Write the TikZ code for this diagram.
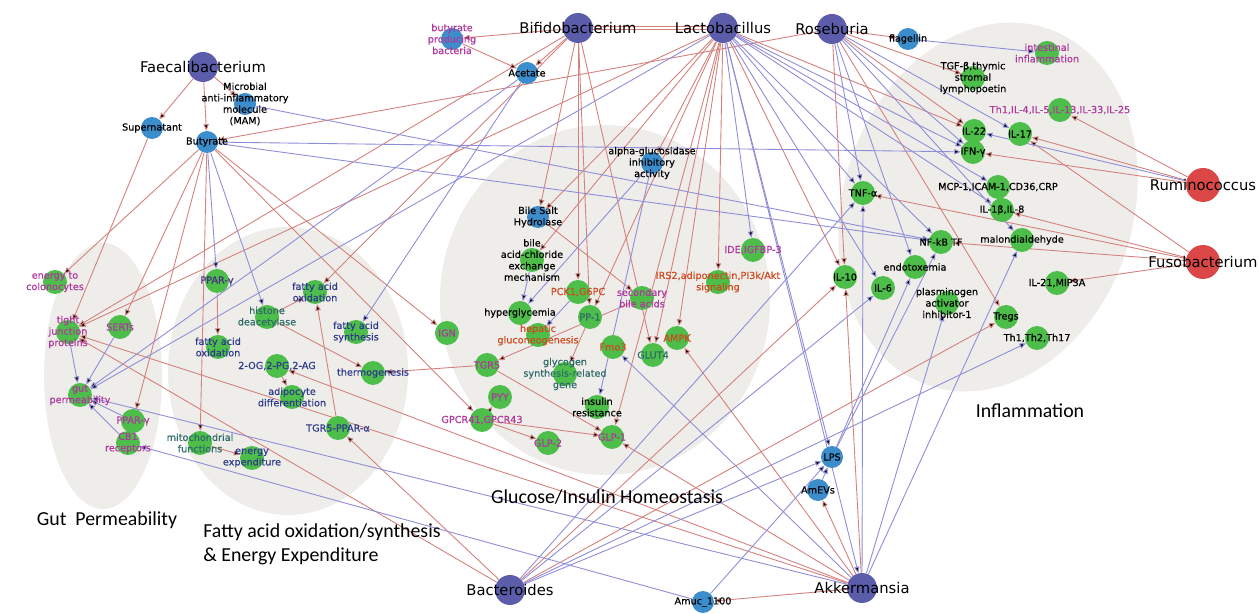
\documentclass[tikz,border=0pt]{standalone}
\usepackage{fontspec}
\usepackage{xcolor}
\usepackage{tikz}
\usetikzlibrary{arrows.meta,backgrounds}
\newfontfamily\nodefont[FakeBold=0.5]{DejaVu Sans}
\newfontfamily\bignodefont{DejaVu Sans}
\newfontfamily\areafont{Carlito}
\definecolor{bactind}{HTML}{5B5DAA}
\definecolor{pathred}{HTML}{DB4747}
\definecolor{metblue}{HTML}{3C8DCB}
\definecolor{effgreen}{HTML}{4DBE49}
\definecolor{blobgray}{HTML}{EEEDEA}
\definecolor{linkred}{HTML}{D4807C}
\definecolor{linkblue}{HTML}{8D8DD9}
\definecolor{txtmag}{HTML}{B0379F}
\definecolor{txtnavy}{HTML}{2E3A8C}
\definecolor{txtteal}{HTML}{2E6B69}
\definecolor{txtorange}{HTML}{D0481E}
\definecolor{txtviolet}{HTML}{4B2B85}
\pgfdeclarelayer{blobs}
\pgfdeclarelayer{links}
\pgfsetlayers{blobs,links,main}

\begin{document}
\begin{tikzpicture}[
  x=0.02cm, y=-0.02cm,
  bact/.style={circle, fill=bactind, minimum size=0.6cm, inner sep=0pt},
  patho/.style={circle, fill=pathred, minimum size=0.68cm, inner sep=0pt},
  metab/.style={circle, fill=metblue, minimum size=0.44cm, inner sep=0pt},
  effect/.style={circle, fill=effgreen, minimum size=0.48cm, inner sep=0pt},
  lbl/.style={font={\nodefont\fontsize{5.5}{6.5}\selectfont}, align=center, inner sep=0pt},
  biglbl/.style={font={\bignodefont\fontsize{8.4}{9}\selectfont}, inner sep=0pt},
  area/.style={font={\areafont\fontsize{11.3}{13.7}\selectfont}, inner sep=0pt},
  uplink/.style={draw=linkred, line width=0.5pt, -{Triangle[length=3.6pt,width=3pt]}},
  downlink/.style={draw=linkblue, line width=0.5pt, -{Triangle[length=3.6pt,width=3pt]}}
]
\useasboundingbox (0,0) rectangle (1259,614);

%% ---- grey areas -----------------------------------------------------------
\begin{pgfonlayer}{blobs}
\fill[white] (0,0) rectangle (1259,614);
\fill[blobgray] (103,376) ellipse [x radius=59, y radius=133];
\fill[blobgray] (288,371) ellipse [x radius=120, y radius=144];
\fill[blobgray] (605,300) ellipse [x radius=165, y radius=175];
\fill[blobgray, rotate around={-18:(988,207)}] (988,207) ellipse [x radius=145, y radius=188];
\end{pgfonlayer}

%% ---- microbes -------------------------------------------------------------
\node[bact, label={[biglbl]center:Faecalibacterium}] (faecali) at (203,67) {};
\node[bact, label={[biglbl]center:Bifidobacterium}] (bifido) at (578,28) {};
\node[bact, label={[biglbl]center:Lactobacillus}] (lacto) at (723,28) {};
\node[bact, label={[biglbl]center:Roseburia}] (rose) at (832,29) {};
\node[bact, label={[biglbl]center:Bacteroides}] (bactero) at (510,590) {};
\node[bact, label={[biglbl]center:Akkermansia}] (akker) at (862,588) {};
\node[patho, label={[biglbl]center:Ruminococcus}] (rumino) at (1203,185) {};
\node[patho, label={[biglbl]center:Fusobacterium}] (fuso) at (1203,262) {};

%% ---- products -------------------------------------------------------------
\node[metab, label={[lbl]center:Supernatant}] (superna) at (152,128) {};
\node[metab, label={[lbl]center:{Microbial\\anti-inflammatory\\molecule\\(MAM)}}] (mam) at (245,104) {};
\node[metab, label={[lbl]center:Butyrate}] (butyr) at (207,142) {};
\node[metab, label={[lbl, text=txtmag]center:{butyrate\\producing\\bacteria}}] (bprod) at (452,39) {};
\node[metab, label={[lbl]center:Acetate}] (acet) at (527,73) {};
\node[metab, label={[lbl]center:{alpha-glucosidase\\inhibitory\\activity}}] (agluc) at (652,163) {};
\node[metab, label={[lbl]center:{Bile Salt\\Hydrolase}}] (bsh) at (538,217) {};
\node[metab, label={[lbl]center:flagellin}] (flag) at (908,39) {};
\node[metab, label={[lbl]center:LPS}] (lps) at (832,457) {};
\node[metab, label={[lbl]center:AmEVs}] (amevs) at (818,490) {};
\node[metab, label={[lbl]center:Amuc\_1100}] (amuc) at (703,602) {};

%% ---- gut permeability -----------------------------------------------------
\node[effect, label={[lbl, text=txtmag]center:{energy to\\colonocytes}}] (energy) at (55,282) {};
\node[effect, label={[lbl, text=txtmag]center:{tight\\junction\\proteins}}] (tight) at (68,332) {};
\node[effect, label={[lbl, text=txtmag]center:SERTs}] (serts) at (120,327) {};
\node[effect, label={[lbl, text=txtmag]center:{gut\\permeability}}] (gutp) at (80,395) {};
\node[effect, label={[lbl, text=txtmag]center:PPAR-γ}] (pparlo) at (133,421) {};
\node[effect, label={[lbl, text=txtmag]center:{CB1\\receptors}}] (cb1) at (128,443) {};

%% ---- fatty acids ----------------------------------------------------------
\node[effect, label={[lbl, text=txtviolet]center:PPAR-γ}] (pparup) at (217,281) {};
\node[effect, label={[lbl, text=txtnavy]center:{fatty acid\\oxidation}}] (faoup) at (315,292) {};
\node[effect, label={[lbl, text=txtteal]center:{histone\\deacetylase}}] (hdac) at (267,317) {};
\node[effect, label={[lbl, text=txtnavy]center:{fatty acid\\oxidation}}] (faolo) at (218,347) {};
\node[effect, label={[lbl, text=txtnavy]center:{fatty acid\\synthesis}}] (fas) at (356,332) {};
\node[effect, label={[lbl, text=txtnavy]center:{2-OG,2-PG,2-AG}}] (twoog) at (277,366) {};
\node[effect, label={[lbl, text=txtnavy]center:thermogenesis}] (thermo) at (373,373) {};
\node[effect, label={[lbl, text=txtnavy]center:{adipocyte\\differentiation}}] (adipo) at (292,397) {};
\node[effect, label={[lbl, text=txtnavy]center:TGR5-PPAR-α}] (tgrppar) at (338,428) {};
\node[effect, label={[lbl, text=txtteal]center:{mitochondrial\\functions}}] (mito) at (200,443) {};
\node[effect, label={[lbl, text=txtnavy]center:{energy\\expenditure}}] (enexp) at (252,458) {};

%% ---- glucose / insulin ----------------------------------------------------
\node[effect, label={[lbl]center:{bile\\acid-chloride\\exchange\\mechanism}}] (bacl) at (532,260) {};
\node[effect, label={[lbl, text=txtmag]center:{IDE,IGFBP-3}}] (ide) at (753,250) {};
\node[effect, label={[lbl, text=txtorange]center:{IRS2,adiponectin,PI3k/Akt\\signaling}}] (irs) at (718,282) {};
\node[effect, label={[lbl, text=txtorange]center:{PCK1,G6PC}}] (pck) at (578,292) {};
\node[effect, label={[lbl, text=txtmag]center:{secondary\\bile acids}}] (secba) at (642,298) {};
\node[effect, label={[lbl]center:hyperglycemia}] (hyper) at (520,313) {};
\node[effect, label={[lbl, text=txtteal]center:PP-1}] (pp1) at (590,317) {};
\node[effect, label={[lbl, text=txtmag]center:IGN}] (ign) at (447,333) {};
\node[effect, label={[lbl, text=txtorange]center:{hepatic\\gluconeogenesis}}] (hepat) at (538,335) {};
\node[effect, label={[lbl, text=txtorange]center:Fmo3}] (fmo) at (613,347) {};
\node[effect, label={[lbl, text=txtorange]center:AMPK}] (ampk) at (677,338) {};
\node[effect, label={[lbl, text=txtteal]center:GLUT4}] (glut) at (653,355) {};
\node[effect, label={[lbl, text=txtmag]center:TGR5}] (tgr) at (487,365) {};
\node[effect, label={[lbl, text=txtteal]center:{glycogen\\synthesis-related\\gene}}] (glyco) at (565,374) {};
\node[effect, label={[lbl]center:{insulin\\resistance}}] (insres) at (597,407) {};
\node[effect, label={[lbl, text=txtmag]center:PYY}] (pyy) at (500,397) {};
\node[effect, label={[lbl, text=txtmag]center:{GPCR41,GPCR43}}] (gpcr) at (482,420) {};
\node[effect, label={[lbl, text=txtmag]center:GLP-2}] (glp2) at (548,443) {};
\node[effect, label={[lbl, text=txtmag]center:GLP-1}] (glp1) at (612,437) {};

%% ---- inflammation ---------------------------------------------------------
\node[effect, label={[lbl]center:{TGF-β,thymic\\stromal\\lymphopoetin}}] (tgfb) at (973,78) {};
\node[effect, label={[lbl, text=txtmag]center:{intestinal\\inflammation}}] (intinf) at (1047,53) {};
\node[effect, label={[lbl, text=txtmag]center:{Th1,IL-4,IL-5,IL-13,IL-33,IL-25}}] (th1il) at (1060,110) {};
\node[effect, label={[lbl]center:IL-22}] (il22) at (974,131) {};
\node[effect, label={[lbl]center:IL-17}] (il17) at (1020,134) {};
\node[effect, label={[lbl]center:IFN-γ}] (ifng) at (973,152) {};
\node[effect, label={[lbl]center:{MCP-1,ICAM-1,CD36,CRP}}] (mcp) at (998,187) {};
\node[effect, label={[lbl]center:TNF-α}] (tnfa) at (863,193) {};
\node[effect, label={[lbl]center:{IL-1β,IL-8}}] (il1b) at (1002,210) {};
\node[effect, label={[lbl]center:NF-kB TF}] (nfkb) at (941,242) {};
\node[effect, label={[lbl]center:malondialdehyde}] (malon) at (1022,240) {};
\node[effect, label={[lbl]center:endotoxemia}] (endo) at (915,267) {};
\node[effect, label={[lbl]center:IL-10}] (il10) at (845,277) {};
\node[effect, label={[lbl]center:IL-6}] (il6) at (883,288) {};
\node[effect, label={[lbl]center:{IL-21,MIP3A}}] (il21) at (1057,283) {};
\node[effect, label={[lbl]center:{plasminogen\\activator\\inhibitor-1}}] (pai) at (947,303) {};
\node[effect, label={[lbl]center:Tregs}] (tregs) at (1006,317) {};
\node[effect, label={[lbl]center:{Th1,Th2,Th17}}] (thset) at (1037,338) {};

%% ---- area names -----------------------------------------------------------
\node[area] (gutlab) at (107,520) {Gut\ \ Permeability};
\node[area, align=left, anchor=west] (fatlab) at (203,544)
  {Fatty acid oxidation/synthesis\\\& Energy Expenditure};
\node[area] (glulab) at (607,497) {Glucose/Insulin Homeostasis};
\node[area] (inflab) at (1030,411) {Inflammation};

%% ---- links: red raises, blue lowers --------------------------------------
\begin{pgfonlayer}{links}
\draw[draw=linkred, line width=0.5pt, double=white, double distance=1.2pt] (bifido) -- (lacto);
\draw[uplink] (faecali) edge (superna) edge (butyr) edge (mam);
\draw[uplink] (superna) edge (tight);
\draw[uplink] (rose) edge (butyr) edge (flag) edge (tgfb) edge (il22) edge (il10) edge (tregs);
\draw[uplink] (bifido) edge (bprod) edge (acet) edge (tight) edge (faoup)
  edge (bsh) edge (pck) edge (pp1) edge (glut);
\draw[uplink] (bprod) edge (acet);
\draw[uplink] (butyr) edge (energy) edge (serts) edge (pparlo) edge (mito)
  edge (ign) edge (gpcr);
\draw[uplink] (lacto) edge (tight) edge (bsh) edge (bacl) edge (agluc) edge (pp1)
  edge (glp1) edge (glut) edge (ampk) edge (irs) edge (il22) edge (il10);
\draw[uplink] (bsh) edge (secba);
\draw[uplink] (pp1) edge (glyco);
\draw[uplink] (secba) edge (tgr);
\draw[uplink] (tgr) edge (glp1) edge (thermo);
\draw[uplink] (gpcr) edge (pyy) edge (glp1) edge (glp2);
\draw[uplink] (pparup) edge (faolo);
\draw[uplink] (hdac) edge (faoup) edge (thermo);
\draw[uplink] (tgrppar) edge (faoup);
\draw[uplink] (twoog) edge (adipo);
\draw[uplink] (mito) edge (enexp);
\draw[uplink] (bactero) edge (tight) edge (tgrppar) edge (il10) edge (tregs);
\draw[uplink] (akker) edge (tight) edge (twoog) edge (glp1) edge (ampk)
  edge (amevs) edge (amuc) edge (il10);
\draw[uplink] (rumino) edge (th1il) edge (il17) edge (ifng);
\draw[uplink] (fuso) edge (il17) edge (tnfa) edge (il1b) edge (nfkb) edge (il21);

\draw[downlink] (mam) edge (nfkb);
\draw[downlink] (butyr) edge (ifng) edge (nfkb) edge (pparup) edge (hdac);
\draw[downlink] (acet) edge (gutp) edge (fas);
\draw[downlink] (tight) edge (gutp);
\draw[downlink] (serts) edge (gutp);
\draw[downlink] (pparlo) edge (gutp);
\draw[downlink] (cb1) edge (gutp);
\draw[downlink] (amuc) edge (cb1) edge (lps);
\draw[downlink] (lacto) edge (gutp) edge (ide) edge (lps) edge (tnfa) edge (il6)
  edge (nfkb) edge (mcp) edge (il1b) edge (ifng) edge (akker);
\draw[downlink] (rose) edge (il17) edge (tnfa) edge (endo) edge (malon) edge (ifng);
\draw[downlink] (agluc) edge (hyper) edge (insres);
\draw[downlink] (bacl) edge (hyper);
\draw[downlink] (pck) edge (hepat);
\draw[downlink] (bactero) edge (tnfa) edge (il6) edge (lps) edge (thset);
\draw[downlink] (akker) edge (gutp) edge (fmo) edge (tnfa) edge (malon) edge (pai);
\draw[downlink] (lps) edge (endo) edge (nfkb);
\draw[downlink] (amevs) edge (lps);
\draw[downlink] (rumino) edge (il22);
\draw[downlink] (flag) edge (intinf);
\end{pgfonlayer}

\end{tikzpicture}
\end{document}
